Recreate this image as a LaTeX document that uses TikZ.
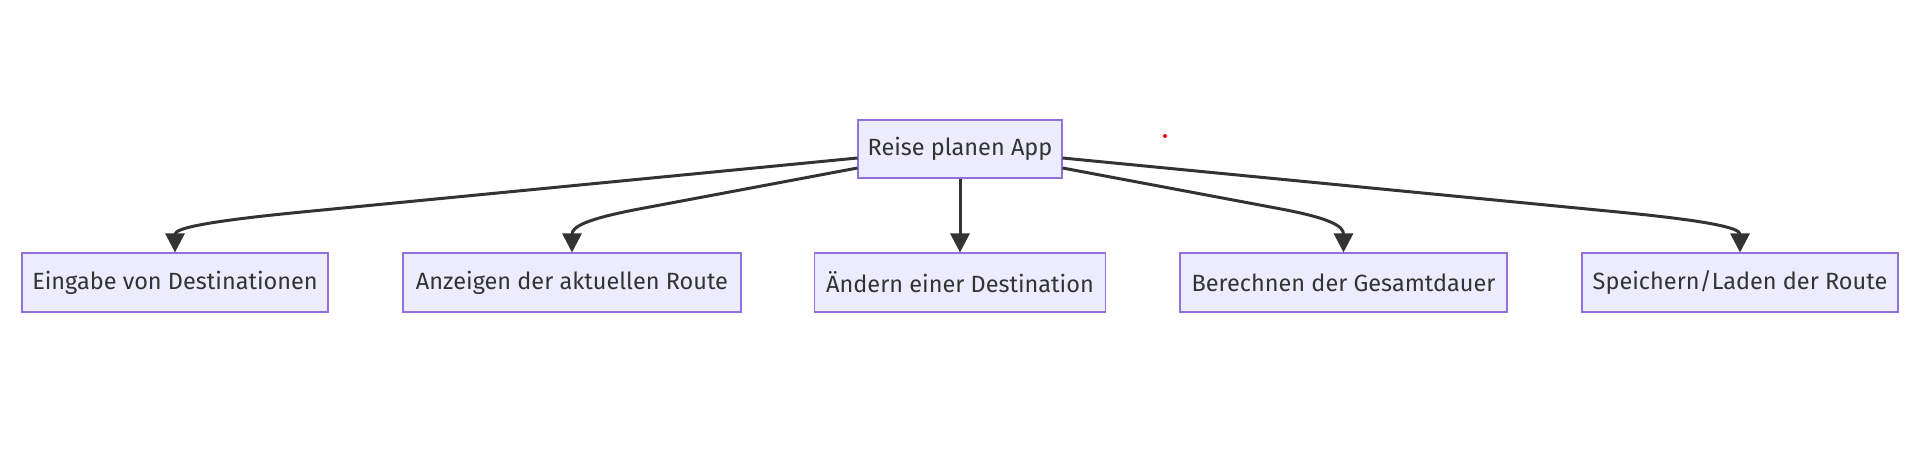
\documentclass[tikz,border=0pt]{standalone}
\usepackage{fontspec}
\setmainfont{Fira Sans}
\usetikzlibrary{arrows.meta}
\definecolor{boxfill}{HTML}{ECECFF}
\definecolor{boxline}{HTML}{9370DB}
\definecolor{ink}{HTML}{333333}
\tikzset{
  box/.style={draw=boxline, fill=boxfill, line width=1.1pt, text=ink, inner sep=0pt,
    minimum height=59pt, font=\fontsize{23.5}{28}\selectfont},
  link/.style={draw=ink, line width=3pt, -{Triangle[length=19pt,width=19pt]}},
}
\begin{document}
\begin{tikzpicture}[x=1pt,y=-1pt]
\useasboundingbox (0,0) rectangle (1920,450);
\node[box, minimum width=204pt, minimum height=58pt] (root) at (960,149) {Reise planen App};
\node[box, minimum width=306pt] (b1) at (175,282.5) {Eingabe von Destinationen};
\node[box, minimum width=338pt] (b2) at (572,282.5) {Anzeigen der aktuellen Route};
\node[box, minimum width=291pt] (b3) at (960,282.5) {Ändern einer Destination};
\node[box, minimum width=327pt] (b4) at (1343.5,282.5) {Berechnen der Gesamtdauer};
\node[box, minimum width=316pt] (b5) at (1740,282.5) {Speichern/Laden der Route};
\draw[link] ([yshift=-9pt]root.west) -- (300,212.2) .. controls (210,221) and (175,228) .. (b1.north);
\draw[link] ([yshift=-19pt]root.west) -- (640,208.8) .. controls (590,218.2) and (572,226) .. (b2.north);
\draw[link] (root.south) -- (b3.north);
\draw[link] ([yshift=-19pt]root.east) -- (1280,208.8) .. controls (1330,218.2) and (1343.5,226) .. (b4.north);
\draw[link] ([yshift=-9pt]root.east) -- (1620,212.2) .. controls (1710,221) and (1740,228) .. (b5.north);
\fill[red] (1165,136) circle (2pt);
\end{tikzpicture}
\end{document}
